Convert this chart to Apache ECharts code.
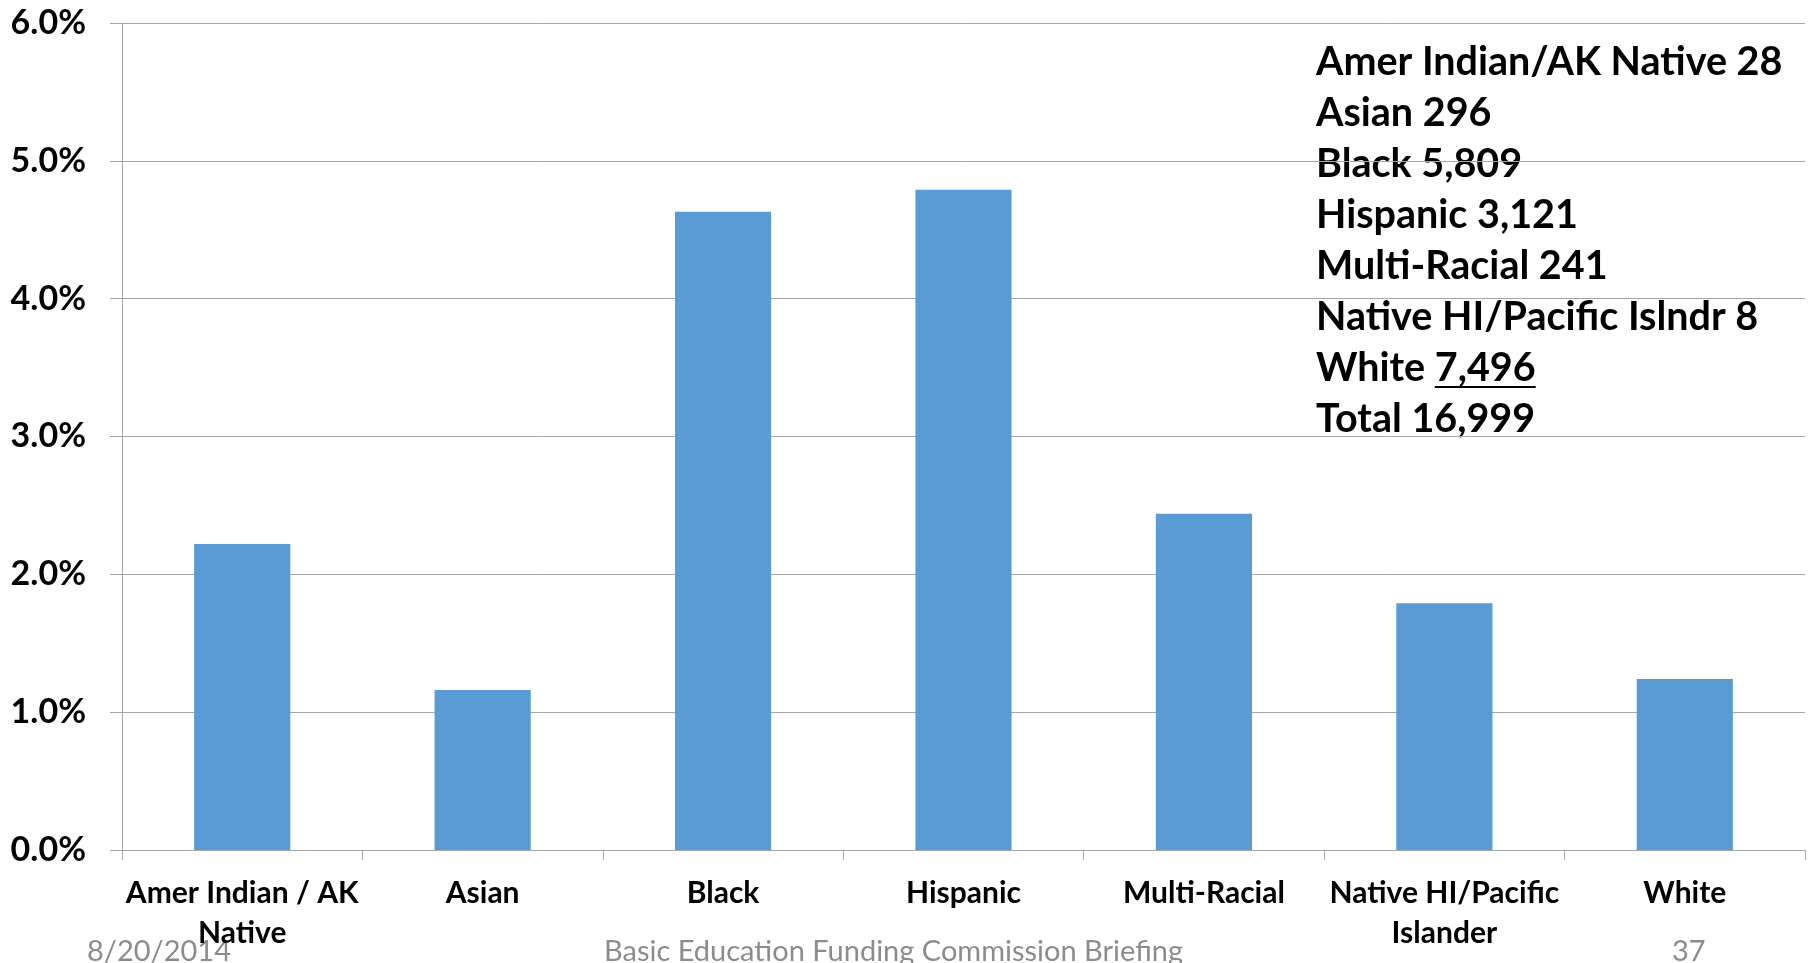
<!DOCTYPE html>
<html>
<head>
<meta charset="utf-8">
<script src="https://cdn.jsdelivr.net/npm/echarts@6/dist/echarts.min.js"></script>
<style>
  html, body { margin: 0; padding: 0; background: #ffffff; }
  #chart { width: 1812px; height: 963px; }
</style>
</head>
<body>
<div id="chart"></div>
<script>
// Dropout rate by race/ethnicity (percent of students)
const categories = [
  'Amer Indian / AK\nNative',
  'Asian',
  'Black',
  'Hispanic',
  'Multi-Racial',
  'Native HI/Pacific\nIslander',
  'White'
];
const rates = [2.22, 1.16, 4.63, 4.79, 2.44, 1.79, 1.24];

// Dropout counts listed in the corner box
const countGroups = [
  'Amer Indian/AK Native',
  'Asian',
  'Black',
  'Hispanic',
  'Multi-Racial',
  'Native HI/Pacific Islndr',
  'White'
];
const counts = [28, 296, 5809, 3121, 241, 8, 7496];

// Slide footer
const footerDate = '8/20/2014';
const footerTitle = 'Basic Education Funding Commission Briefing';
const pageNumber = '37';

const FONT = 'Lato, "Open Sans", sans-serif';
const fmt = n => n.toLocaleString('en-US');
const total = counts.reduce((a, b) => a + b, 0);

const chart = echarts.init(document.getElementById('chart'), null, { renderer: 'canvas' });

// Corner box: one text element per line; the last group's count is underlined
const boxX = 1316, boxFirstBaseline = 73, boxStep = 51, boxFont = 39.5;
const measureCtx = document.createElement('canvas').getContext('2d');
measureCtx.font = 'bold ' + boxFont + 'px ' + FONT;

const boxLines = countGroups.map((g, i) => g + ' ' + fmt(counts[i]));
boxLines.push('Total ' + fmt(total));

const graphics = boxLines.map((line, i) => ({
  type: 'text',
  left: boxX,
  top: boxFirstBaseline + i * boxStep - 31,
  style: {
    text: line,
    font: 'bold ' + boxFont + 'px ' + FONT,
    fill: '#000000'
  }
}));

// underline beneath the White count
const lastIdx = countGroups.length - 1;
const prefixW = measureCtx.measureText(countGroups[lastIdx] + ' ').width;
const countW = measureCtx.measureText(fmt(counts[lastIdx])).width;
const ulY = boxFirstBaseline + lastIdx * boxStep + 8;
graphics.push({
  type: 'line',
  shape: { x1: boxX + prefixW, y1: ulY, x2: boxX + prefixW + countW, y2: ulY },
  style: { stroke: '#000000', lineWidth: 2 }
});

// footer
const footerStyle = { font: '29px ' + FONT, fill: '#8c8c8c' };
graphics.push(
  { type: 'text', left: 87, top: 937, style: Object.assign({ text: footerDate }, footerStyle) },
  { type: 'text', left: 604, top: 937, style: Object.assign({ text: footerTitle }, footerStyle) },
  { type: 'text', left: 1672, top: 937, style: Object.assign({ text: pageNumber }, footerStyle) }
);

chart.setOption({
  animation: false,
  backgroundColor: '#ffffff',
  grid: { left: 122, right: 7, top: 23, bottom: 113, containLabel: false },
  xAxis: {
    type: 'category',
    data: categories,
    boundaryGap: true,
    axisLine: { show: true, lineStyle: { color: '#a6a6a6', width: 1 } },
    axisTick: { show: true, alignWithLabel: false, length: 10, lineStyle: { color: '#a6a6a6' } },
    axisLabel: {
      interval: 0,
      margin: 23,
      color: '#000000',
      fontFamily: FONT,
      fontWeight: 'bold',
      fontSize: 30,
      lineHeight: 40
    }
  },
  yAxis: {
    type: 'value',
    min: 0,
    max: 6,
    interval: 1,
    axisLine: { show: true, lineStyle: { color: '#a6a6a6', width: 1 } },
    axisTick: { show: true, length: 12, lineStyle: { color: '#a6a6a6' } },
    splitLine: { show: true, lineStyle: { color: '#a6a6a6', width: 1 } },
    axisLabel: {
      margin: 36,
      color: '#000000',
      fontFamily: FONT,
      fontWeight: 'bold',
      fontSize: 34,
      formatter: v => v.toFixed(1) + '%'
    }
  },
  series: [{
    type: 'bar',
    data: rates,
    barWidth: '40%',
    itemStyle: { color: '#5b9bd5' }
  }],
  graphic: graphics
});
</script>
</body>
</html>
